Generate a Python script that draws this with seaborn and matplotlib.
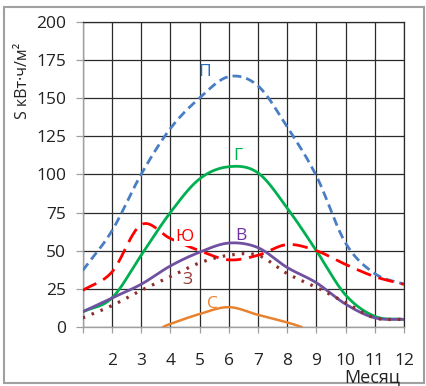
import numpy as np
import pandas as pd
import matplotlib
matplotlib.use("Agg")
import matplotlib.pyplot as plt
from matplotlib.patches import Rectangle
import seaborn as sns

# ---- data ----
months = [1, 2, 3, 4, 5, 6, 7, 8, 9, 10, 11, 12]
p_vals = [37, 63, 100, 130, 150, 164, 158, 131, 99, 55, 35, 28]     # П
g_vals = [10, 19, 47, 75, 97, 105, 101, 78, 50, 21, 7, 5]           # Г
yu_vals = [24, 36, 67, 58, 50, 44, 47, 54, 50, 41, 33, 28]          # Ю
v_vals = [10, 19, 28, 40, 49, 55, 52, 39, 29, 15, 6, 5]             # В
z_vals = [6, 14, 24, 33, 42, 47, 47, 35, 26, 16, 6, 5]              # З
s_months = [3.75, 4, 5, 6, 7, 8, 8.5]
s_vals = [0, 2, 8.5, 13, 8, 3, 0]                                   # С
x_ticks = [1, 2, 3, 4, 5, 6, 7, 8, 9, 10, 11, 12]
x_ticklabels = ["", "2", "3", "4", "5", "6", "7", "8", "9", "10", "11", "12"]
y_ticks = [0, 25, 50, 75, 100, 125, 150, 175, 200]


def smooth(xs, ys, n=20):
    """Catmull-Rom smoothing (like Excel's smoothed line) for drawing."""
    P = np.column_stack([xs, ys]).astype(float)
    P = np.vstack([2 * P[0] - P[1], P, 2 * P[-1] - P[-2]])
    out = []
    t = np.linspace(0, 1, n, endpoint=False)
    for i in range(1, len(P) - 2):
        p0, p1, p2, p3 = P[i - 1], P[i], P[i + 1], P[i + 2]
        t2, t3 = t * t, t * t * t
        seg = 0.5 * ((2 * p1)[None, :] + (-p0 + p2)[None, :] * t[:, None]
                     + (2 * p0 - 5 * p1 + 4 * p2 - p3)[None, :] * t2[:, None]
                     + (-p0 + 3 * p1 - 3 * p2 + p3)[None, :] * t3[:, None])
        out.append(seg)
    out.append(P[-2][None, :])
    arr = np.vstack(out)
    return pd.DataFrame({"x": arr[:, 0], "y": arr[:, 1]})


sns.set_theme(style="white")
plt.rcParams["font.family"] = ["Open Sans", "DejaVu Sans"]

fig = plt.figure(figsize=(4.27, 3.86), dpi=100)
ax = fig.add_axes([0.1937, 0.1528, 0.7524, 0.791])

series = [
    (months, p_vals, "#4A7EC4", (0, (3.2, 1.8)), 2.0),
    (months, g_vals, "#00B050", "-", 2.0),
    (months, yu_vals, "#FF0000", (0, (5.5, 2.8)), 2.0),
    (months, v_vals, "#7050A0", "-", 2.0),
    (months, z_vals, "#8B2E2E", (0, (0.8, 2.2)), 2.3),
    (s_months, s_vals, "#E8822E", "-", 1.8),
]
for xs, ys, col, ls, lw in series:
    df = smooth(xs, ys)
    sns.lineplot(data=df, x="x", y="y", sort=False, estimator=None, ax=ax,
                 color=col, linestyle=ls, linewidth=lw, zorder=3)

ax.set_xlim(1, 12)
ax.set_ylim(0, 200)
ax.set_xticks(x_ticks)
ax.set_xticklabels(x_ticklabels)
ax.set_yticks(y_ticks)
ax.grid(True, color="#2a2a2a", linewidth=0.9, zorder=0)
ax.set_axisbelow(True)
for s in ["top", "right"]:
    ax.spines[s].set_color("#2a2a2a")
    ax.spines[s].set_linewidth(0.9)
for s in ["left", "bottom"]:
    ax.spines[s].set_color("#a0a0a0")
    ax.spines[s].set_linewidth(1.0)
ax.tick_params(axis="x", which="both", bottom=True, length=4, width=0.9,
               color="#a0a0a0", pad=15, labelsize=12.5, labelcolor="#222222")
ax.tick_params(axis="y", which="both", left=True, length=5, width=0.9,
               color="#a0a0a0", pad=7, labelsize=12.5, labelcolor="#222222")
ax.set_xlabel("")
ax.set_ylabel("S кВт·ч/м²", fontsize=11.5, color="#222222")
ax.yaxis.set_label_coords(-0.16, 0.805)

fig.text(372 / 427, 1 - 377 / 386, "Месяц", fontsize=13, color="#222222",
         ha="center", va="center")

# series labels
ax.text(5.19, 167, "П", color="#1F6FC5", fontsize=12.5, ha="center", va="center", zorder=4)
ax.text(6.32, 112, "Г", color="#00B050", fontsize=12.5, ha="center", va="center", zorder=4)
ax.text(4.47, 59, "Ю", color="#FF0000", fontsize=12.5, ha="center", va="center", zorder=4,
        bbox=dict(facecolor="white", edgecolor="none", pad=0.5))
ax.text(6.42, 59.5, "В", color="#7030A0", fontsize=12.5, ha="center", va="center", zorder=4)
ax.text(4.6, 31, "З", color="#953735", fontsize=12.5, ha="center", va="center", zorder=4)
ax.text(5.43, 15, "С", color="#E8822E", fontsize=12.5, ha="center", va="center", zorder=4)

fig.patches.append(Rectangle((4 / 427, 1 - 383 / 386), 420 / 427, 376 / 386,
                             transform=fig.transFigure, fill=False,
                             edgecolor="#a0a0a0", linewidth=1.5))

fig.savefig("out.png", dpi=100)
